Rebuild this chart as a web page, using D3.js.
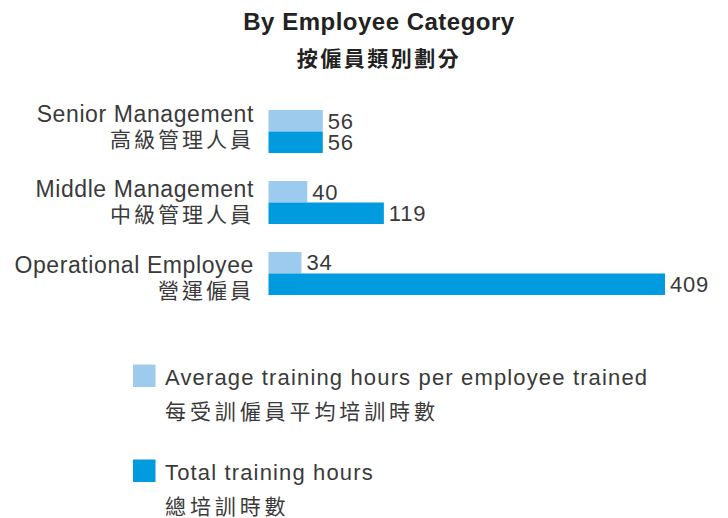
<!doctype html>
<html lang="zh-Hant">
    <head>
        <meta charset="utf-8">
        <title>By Employee Category</title>
        <style type="text/css">
            body{
                margin:0;
                background:#fff;
            }
            svg text{
                font-family: "Liberation Sans", Arial, Helvetica, sans-serif;
                fill:#3a3a3a;
            }
            svg text.zh{
                font-family: "Noto Sans CJK TC", "Noto Sans CJK SC", sans-serif;
            }
        </style>
    </head>
    <body>
        <div id="vis"></div>
        <script src="https://d3js.org/d3.v7.min.js"></script>
        <script type="text/javascript">
            var categoriesEn = ['Senior Management', 'Middle Management', 'Operational Employee'];
            var categoriesZh = ['高級管理人員', '中級管理人員', '營運僱員'];
            var avgHours = [56, 40, 34];
            var totalHours = [56, 119, 409];
            var seriesEn = ['Average training hours per employee trained', 'Total training hours'];
            var seriesZh = ['每受訓僱員平均培訓時數', '總培訓時數'];
            var seriesColors = ['#9dcbee', '#009ade'];

            var data = categoriesEn.map(function(c, i){
                return {cat: c, zh: categoriesZh[i], values: [avgHours[i], totalHours[i]]};
            });

            var svg = d3.select('#vis').append('svg').attr('width', 728).attr('height', 518);

            // title
            svg.append('text').attr('x', 379).attr('y', 30).attr('text-anchor', 'middle')
                .style('font-size', '24px').style('font-weight', 'bold').style('letter-spacing', '0.5px').style('fill', '#222')
                .text('By Employee Category');
            svg.append('text').attr('class', 'zh').attr('x', 379).attr('y', 66).attr('text-anchor', 'middle')
                .style('font-size', '21px').style('font-weight', 'bold').style('letter-spacing', '2.5px').style('fill', '#222')
                .text('按僱員類別劃分');

            var scaleX = d3.scaleLinear().domain([0, d3.max(totalHours)]).range([268.5, 665]),
                groupY = d3.scaleBand().domain(categoriesEn).range([110, 295]).paddingInner(0.394).paddingOuter(0),
                barY = d3.scaleBand().domain([0, 1]).range([0, groupY.bandwidth()]),
                labelY = d3.scalePoint().domain(categoriesEn).range([121.5, 272.5]);

            var groups = svg.selectAll('g.group').data(data).enter().append('g')
                .attr('class', 'group')
                .attr('transform', function(d){ return 'translate(0,' + groupY(d.cat) + ')'; });

            groups.selectAll('rect').data(function(d){ return d.values; }).enter().append('rect')
                .attr('x', scaleX(0))
                .attr('y', function(v, i){ return barY(i); })
                .attr('width', function(v){ return scaleX(v) - scaleX(0); })
                .attr('height', barY.bandwidth())
                .style('fill', function(v, i){ return seriesColors[i]; });

            groups.selectAll('text.val').data(function(d){ return d.values; }).enter().append('text')
                .attr('class', 'val')
                .attr('x', function(v){ return scaleX(v) + 5; })
                .attr('y', function(v, i){ return barY(i) + barY.bandwidth() - 3; })
                .style('font-size', '22px').style('letter-spacing', '0.8px')
                .text(function(v){ return v; });

            // category labels
            svg.selectAll('text.cat').data(data).enter().append('text')
                .attr('class', 'cat')
                .attr('x', 254).attr('y', function(d){ return labelY(d.cat); })
                .attr('text-anchor', 'end')
                .style('font-size', '23px').style('letter-spacing', '0.6px')
                .text(function(d){ return d.cat; });
            svg.selectAll('text.catzh').data(data).enter().append('text')
                .attr('class', 'zh catzh')
                .attr('x', 254).attr('y', function(d){ return labelY(d.cat) + 25; })
                .attr('text-anchor', 'end')
                .style('font-size', '21px').style('letter-spacing', '3px')
                .text(function(d){ return d.zh; });

            // legend
            var legend = svg.selectAll('g.legend').data(seriesEn).enter().append('g')
                .attr('class', 'legend')
                .attr('transform', function(d, i){ return 'translate(133,' + (364.5 + i * 95) + ')'; });
            legend.append('rect').attr('width', 22.5).attr('height', 22.5)
                .style('fill', function(d, i){ return seriesColors[i]; });
            legend.append('text').attr('x', 32).attr('y', 20)
                .style('font-size', '22px').style('letter-spacing', '1.15px')
                .text(function(d){ return d; });
            legend.append('text').attr('class', 'zh').attr('x', 32).attr('y', 54)
                .style('font-size', '21px').style('letter-spacing', '3.9px')
                .text(function(d, i){ return seriesZh[i]; });
        </script>
    </body>
</html>
